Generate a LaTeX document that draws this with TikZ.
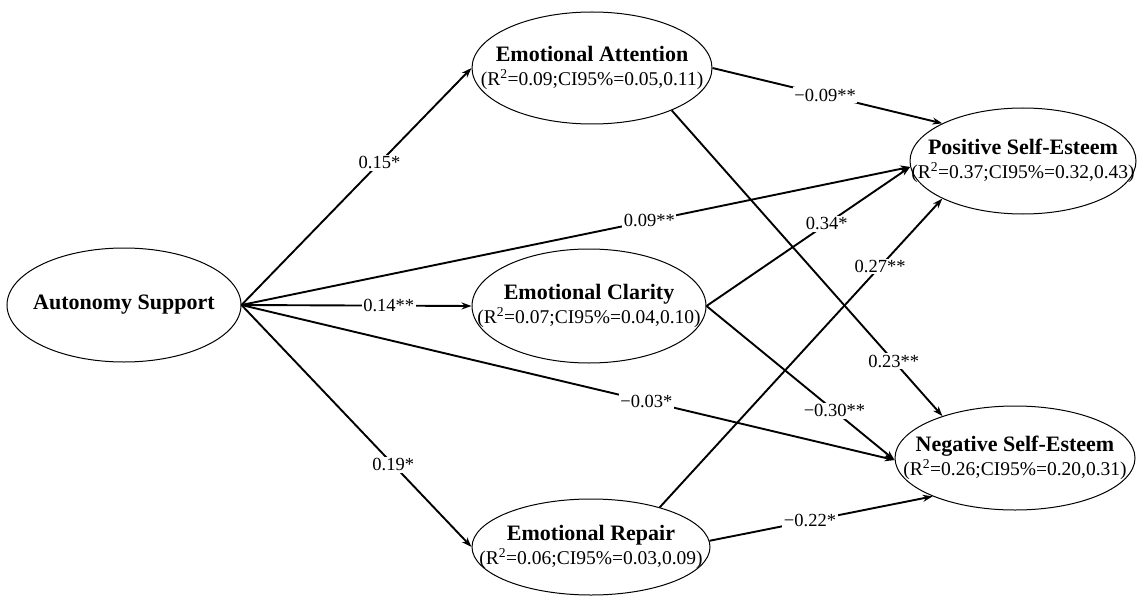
\documentclass[tikz,border=0pt]{standalone}
\usepackage{fontspec}
\setmainfont{Liberation Serif}
\usetikzlibrary{shapes.geometric,arrows.meta}
\tikzset{
  ell/.style={draw, ellipse, line width=1pt, inner sep=0pt},
  ttl/.style={align=center, inner sep=0pt, font=\fontsize{22}{25}\selectfont},
  arr/.style={line width=1.9pt, -{Stealth[length=10pt,width=7pt]}},
  lab/.style={fill=white, inner sep=1.5pt, font=\fontsize{18.5}{18.5}\selectfont},
}
\newcommand{\nodetext}[2]{\textbf{#1}\\[-1pt]{\fontsize{19.5}{22}\selectfont (R\textsuperscript{2}=#2)}}
\begin{document}
\begin{tikzpicture}[x=1pt,y=-1pt]
\useasboundingbox (0,0) rectangle (1137,596);
% ellipses
\node[ell, minimum width=234pt, minimum height=114pt] (AS) at (124,305) {};
\node[ell, minimum width=240pt, minimum height=112pt] (EA) at (592,68) {};
\node[ell, minimum width=234pt, minimum height=114pt] (EC) at (589,306) {};
\node[ell, minimum width=238pt, minimum height=96pt] (ER) at (591,547) {};
\node[ell, minimum width=226pt, minimum height=106pt] (PS) at (1023,161) {};
\node[ell, minimum width=240pt, minimum height=104pt] (NS) at (1015,458) {};
% texts
\node[ttl] (tAS) at (AS) {\textbf{Autonomy Support}};
\node[ttl] (tEA) at (EA) {\nodetext{Emotional Attention}{0.09;CI95\%=0.05,0.11}};
\node[ttl] (tEC) at (EC) {\nodetext{Emotional Clarity}{0.07;CI95\%=0.04,0.10}};
\node[ttl] (tER) at (ER) {\nodetext{Emotional Repair}{0.06;CI95\%=0.03,0.09}};
\node[ttl] (tPS) at (PS) {\nodetext{Positive Self-Esteem}{0.37;CI95\%=0.32,0.43}};
\node[ttl] (tNS) at (NS) {\nodetext{Negative Self-Esteem}{0.26;CI95\%=0.20,0.31}};
% connectors
\draw[arr] (AS.east) -- node[lab,pos=0.6]{0.15*} (EA.west);
\draw[arr] (AS.east) -- node[lab,pos=0.64]{0.14**} (EC.west);
\draw[arr] (AS.east) -- node[lab,pos=0.66]{0.19*} (ER.west);
\draw[arr] (AS.east) -- node[lab,pos=0.61]{0.09**} (PS.183);
\draw[arr] (AS.east) -- node[lab,pos=0.62]{−0.03*} (NS.181);
\draw[arr] (EA.east) -- node[lab,pos=0.49]{−0.09**} (PS.155);
\draw[arr] (EA.-28) -- node[lab,pos=0.82]{0.23**} (NS.150);
\draw[arr] (EC.east) -- node[lab,pos=0.59]{0.34*} (PS.183);
\draw[arr] (EC.east) -- node[lab,pos=0.68]{−0.30**} (NS.181);
\draw[arr] (ER.30) -- node[lab,pos=0.78]{0.27**} (PS.205);
\draw[arr] (ER.3) -- node[lab,pos=0.45]{−0.22*} (NS.205);
\end{tikzpicture}
\end{document}
